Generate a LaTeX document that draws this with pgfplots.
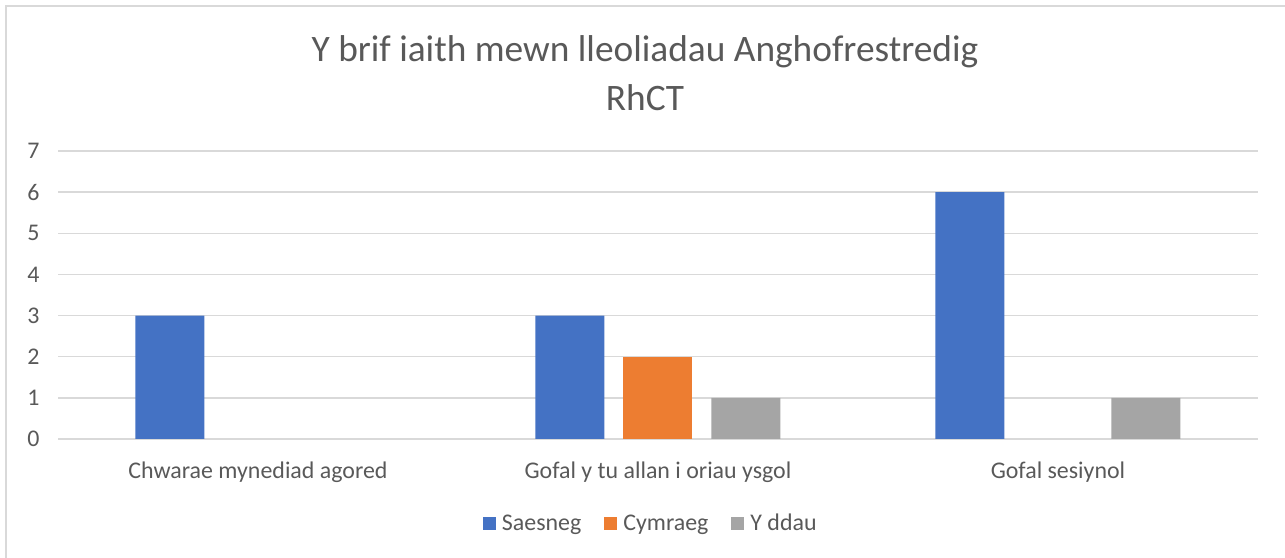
\documentclass[border=0pt]{standalone}
\usepackage{fontspec}
\setmainfont{Carlito}
\usepackage{pgfplots}
\pgfplotsset{compat=1.18}
\definecolor{cblue}{HTML}{4472C4}
\definecolor{corange}{HTML}{ED7D31}
\definecolor{cgray}{HTML}{A5A5A5}
\definecolor{ctext}{HTML}{595959}
\definecolor{cgrid}{HTML}{D9D9D9}
\begin{document}
\begin{tikzpicture}[x=1bp,y=1bp]
\useasboundingbox (0,0) rectangle (1285,558);
\draw[cgrid, line width=1.5bp] (6,0) -- (6,552) -- (1285,552);
\node[text=ctext, font=\fontsize{37.5}{44}\selectfont] at (645,558-52) {Y brif iaith mewn lleoliadau Anghofrestredig};
\node[text=ctext, font=\fontsize{37.5}{44}\selectfont] at (645,558-98) {RhCT};
\begin{axis}[
  at={(58bp,119bp)}, anchor=south west,
  scale only axis, width=1200bp, height=288bp,
  xmin=-0.5, xmax=2.5, ymin=0, ymax=7,
  ytick={0,1,2,3,4,5,6,7},
  xtick={0,1,2},
  xticklabels={Chwarae mynediad agored,Gofal y tu allan i oriau ysgol,Gofal sesiynol},
  axis line style={draw=none},
  major tick length=0pt,
  ymajorgrids, grid style={cgrid, line width=1.3bp},
  /pgf/number format/assume math mode=true,
  tick label style={text=ctext, font=\fontsize{24}{29}\selectfont},
  yticklabel style={xshift=-15bp},
  xticklabel style={yshift=-19bp},
  ybar=19bp, bar width=69bp,
  legend style={at={(0.494,-0.2917)}, anchor=center, draw=none, legend columns=-1,
    font=\fontsize{24}{29}\selectfont, text=ctext,
    /tikz/every odd column/.append style={column sep=4bp},
    /tikz/every even column/.append style={column sep=21bp}},
  legend image code/.code={\fill[#1] (0bp,-6.5bp) rectangle (13bp,6.5bp);},
]
\addplot[fill=cblue, draw=none] coordinates {(0,3) (1,3) (2,6)};
\addplot[fill=corange, draw=none] coordinates {(1,2)};
\addplot[fill=cgray, draw=none] coordinates {(1,1) (2,1)};
\legend{Saesneg,Cymraeg,Y ddau}
\end{axis}
\end{tikzpicture}
\end{document}
